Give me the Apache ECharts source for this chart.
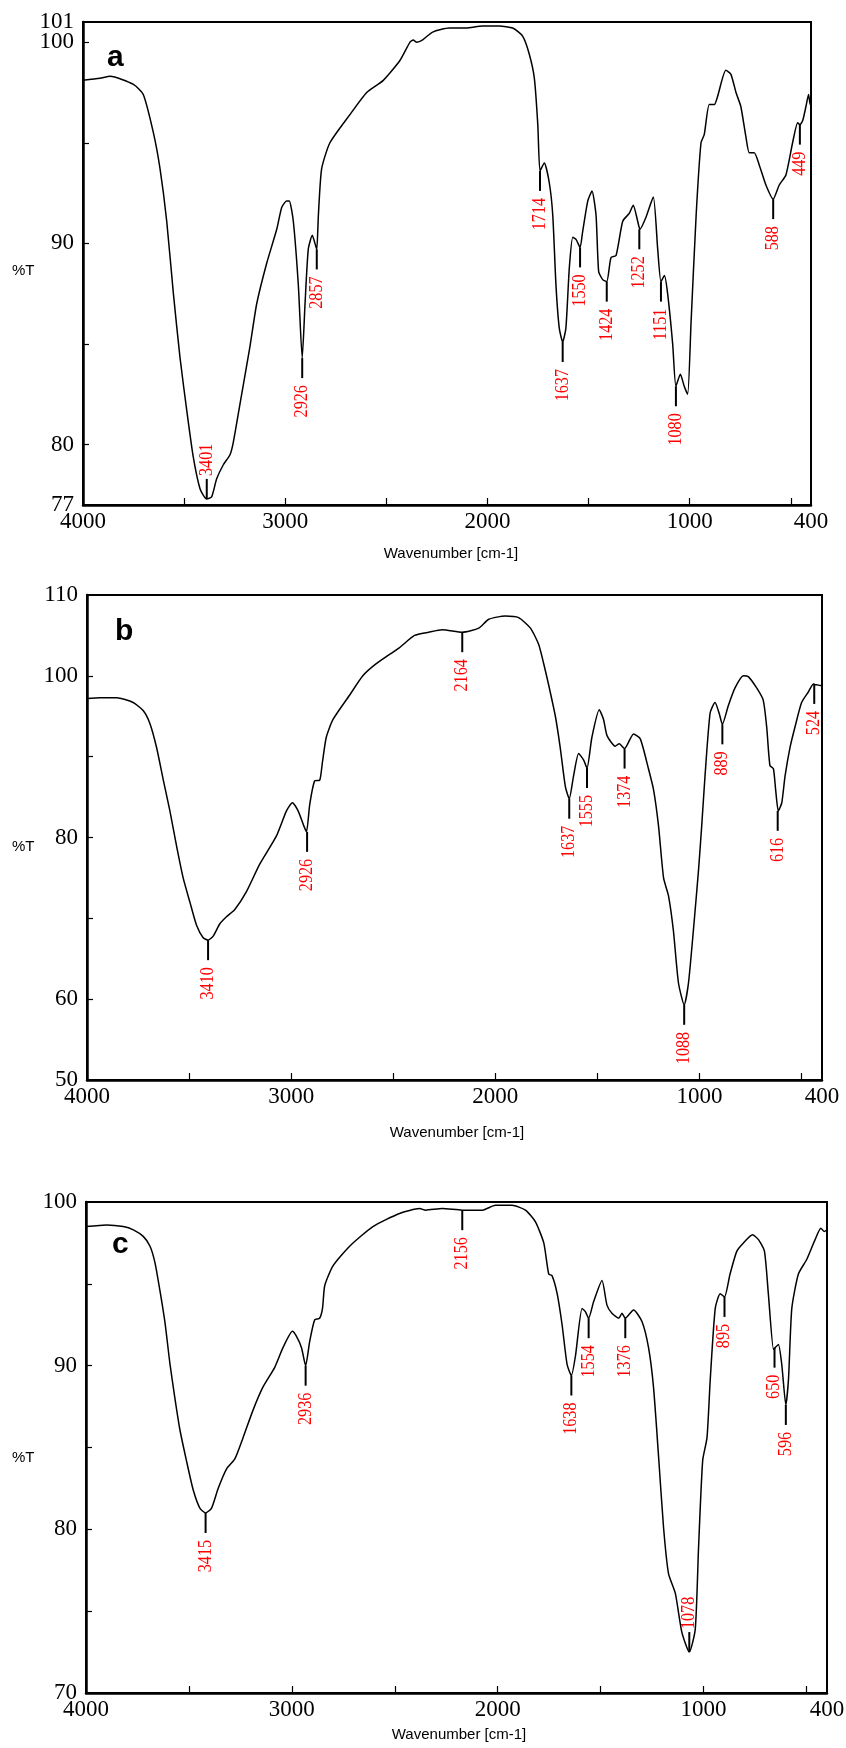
<!DOCTYPE html>
<html>
<head>
<meta charset="utf-8">
<title>FTIR spectra a, b, c</title>
<script src="https://cdn.jsdelivr.net/npm/echarts@6/dist/echarts.min.js"></script>
<style>
  html, body { margin: 0; padding: 0; background: #fff; }
  #ftir-chart { width: 846px; height: 1748px; }
</style>
</head>
<body>
<div id="ftir-chart"></div>
<script>
// spectrum a
var waveA = [4000, 3916, 3866, 3751, 3702, 3652, 3619, 3586, 3553, 3520, 3487, 3455, 3421, 3388, 3364, 3339, 3306, 3273, 3257, 3224,
  3174, 3141, 3092, 3042, 3017, 2993, 2980, 2960, 2935, 2916, 2902, 2886, 2866, 2853, 2844, 2836, 2820, 2779, 2680, 2597,
  2515, 2432, 2383, 2367, 2350, 2322, 2271, 2189, 2106, 2024, 1941, 1875, 1826, 1793, 1768, 1751, 1740, 1719, 1694, 1677,
  1661, 1645, 1628, 1612, 1595, 1578, 1562, 1542, 1529, 1504, 1483, 1463, 1450, 1430, 1410, 1389, 1364, 1331, 1298, 1279,
  1257, 1246, 1216, 1180, 1158, 1142, 1125, 1109, 1084, 1068, 1046, 1027, 1010, 993, 968, 944, 928, 903, 878, 862,
  821, 796, 771, 747, 722, 705, 681, 656, 623, 587, 557, 524, 491, 466, 455, 441, 425, 412, 404, 400];
var pctA = [98.1, 98.2, 98.3, 97.9, 97.4, 95.5, 93.7, 91.1, 87.5, 84.3, 81.7, 79.4, 77.8, 77.3, 77.4, 78.3, 79.0, 79.5, 80.1, 82.0,
  84.9, 87.0, 89.0, 90.7, 91.8, 92.1, 92.1, 91.1, 87.9, 84.3, 87.0, 89.7, 90.4, 90.0, 89.7, 91.4, 93.7, 95.0, 96.4, 97.5,
  98.1, 99.1, 100.0, 100.1, 100.0, 100.1, 100.5, 100.7, 100.7, 100.8, 100.8, 100.7, 100.3, 99.4, 98.2, 95.9, 93.6, 94.0, 93.0, 91.4,
  87.9, 85.8, 85.1, 85.8, 88.8, 90.3, 90.2, 89.8, 90.6, 92.1, 92.6, 91.4, 88.6, 88.2, 88.1, 89.3, 89.4, 91.1, 91.5, 91.9,
  91.1, 90.7, 91.3, 92.3, 89.7, 88.1, 88.4, 87.5, 85.0, 82.9, 83.5, 82.9, 82.5, 86.1, 91.4, 95.0, 95.4, 96.9, 96.9, 97.3,
  98.6, 98.4, 97.5, 96.8, 95.3, 94.5, 94.5, 93.9, 92.9, 92.2, 92.9, 93.4, 95.0, 96.0, 95.9, 96.1, 96.8, 97.4, 96.9, 97.0];
var peakTextA = ['3401', '2926', '2857', '1714', '1637', '1550', '1424', '1252', '1151', '1080', '588', '449'];
var peakPosA = [3388, 2916, 2844, 1740, 1628, 1542, 1410, 1249, 1142, 1068, 587, 455];
var peakValA = [77.3, 84.3, 89.7, 93.6, 85.1, 89.8, 88.1, 90.7, 88.1, 82.9, 92.2, 95.9];
var peakUpA = [true, false, false, false, false, false, false, false, false, false, false, false];

// spectrum b
var waveB = [4000, 3936, 3855, 3774, 3725, 3692, 3659, 3627, 3594, 3561, 3529, 3496, 3463, 3431, 3407, 3382, 3350, 3317, 3276, 3219,
  3154, 3072, 3023, 2994, 2966, 2939, 2925, 2909, 2885, 2860, 2847, 2828, 2795, 2714, 2649, 2583, 2469, 2396, 2326, 2260,
  2162, 2081, 2032, 1951, 1886, 1828, 1788, 1763, 1739, 1706, 1682, 1657, 1638, 1617, 1592, 1568, 1551, 1527, 1491, 1470,
  1453, 1413, 1393, 1367, 1323, 1290, 1250, 1225, 1201, 1176, 1152, 1128, 1103, 1075, 1054, 1030, 1005, 989, 973, 948,
  924, 904, 888, 859, 826, 785, 761, 720, 688, 671, 655, 638, 627, 614, 597, 581, 557, 532, 500, 467,
  442, 434, 426, 410, 400];
var pctB = [97.2, 97.3, 97.3, 96.7, 95.7, 94.1, 91.1, 87.2, 83.3, 78.9, 75.0, 72.0, 69.1, 67.6, 67.3, 67.8, 69.3, 70.2, 71.1, 73.3,
  76.7, 80.2, 83.3, 84.3, 83.3, 81.5, 80.7, 84.1, 87.0, 87.1, 89.3, 92.4, 94.6, 97.6, 100.0, 101.5, 103.5, 105.0, 105.4, 105.7,
  105.4, 105.9, 107.0, 107.4, 107.2, 105.9, 103.9, 101.5, 98.9, 95.0, 91.1, 86.3, 84.8, 87.6, 90.4, 89.6, 88.6, 92.4, 95.8, 94.6,
  92.6, 91.3, 91.6, 91.0, 92.8, 92.2, 88.5, 85.9, 81.5, 75.0, 72.8, 68.5, 62.0, 59.3, 62.0, 68.5, 75.9, 81.5, 87.6, 95.4,
  96.7, 95.4, 94.0, 96.3, 98.5, 100.0, 99.9, 98.5, 97.0, 93.7, 88.9, 88.5, 85.9, 83.3, 84.3, 87.6, 91.1, 93.7, 96.7, 98.0,
  99.0, 98.9, 98.9, 98.8, 98.8];
var peakTextB = ['3410', '2926', '2164', '1637', '1555', '1374', '1088', '889', '616', '524'];
var peakPosB = [3407, 2922, 2162, 1638, 1551, 1367, 1075, 888, 617, 438];
var peakValB = [67.3, 80.7, 105.4, 84.8, 88.6, 91.0, 59.3, 94.0, 83.3, 99.0];
var peakUpB = [false, false, false, false, false, false, false, false, false, false];

// spectrum c
var waveC = [4000, 3900, 3819, 3770, 3722, 3689, 3665, 3641, 3617, 3592, 3568, 3544, 3512, 3479, 3447, 3419, 3390, 3358, 3317, 3277,
  3237, 3188, 3140, 3083, 3043, 2997, 2978, 2953, 2933, 2913, 2889, 2865, 2851, 2840, 2800, 2719, 2606, 2477, 2379, 2350,
  2269, 2172, 2075, 2011, 1930, 1865, 1817, 1776, 1752, 1736, 1711, 1687, 1663, 1642, 1622, 1590, 1574, 1558, 1534, 1493,
  1469, 1445, 1412, 1396, 1380, 1340, 1299, 1267, 1243, 1218, 1194, 1170, 1137, 1105, 1069, 1040, 1024, 1004, 983, 967,
  943, 919, 898, 871, 838, 806, 762, 733, 704, 685, 660, 652, 636, 620, 600, 587, 571, 539, 498, 458,
  430, 414, 400];
var pctC = [98.5, 98.6, 98.5, 98.3, 97.9, 97.3, 96.3, 94.6, 92.7, 90.1, 88.0, 86.1, 84.2, 82.4, 81.3, 81.0, 81.3, 82.5, 83.7, 84.3,
  85.6, 87.3, 88.7, 89.9, 91.1, 92.1, 91.8, 91.1, 90.0, 91.5, 92.8, 92.9, 93.5, 94.9, 96.1, 97.3, 98.5, 99.3, 99.6, 99.5,
  99.6, 99.5, 99.5, 99.8, 99.8, 99.5, 98.8, 97.5, 95.6, 95.5, 94.4, 92.5, 90.1, 89.4, 90.6, 93.5, 93.3, 92.9, 93.9, 95.2,
  93.7, 93.2, 92.9, 93.2, 92.9, 93.4, 92.7, 91.1, 88.7, 84.4, 80.1, 77.3, 76.1, 73.7, 72.5, 73.9, 78.9, 84.2, 85.6, 89.2,
  93.5, 94.4, 94.2, 95.6, 97.0, 97.5, 98.0, 97.7, 97.0, 94.4, 91.0, 91.1, 91.3, 90.1, 87.6, 89.2, 93.5, 95.6, 96.5, 97.7,
  98.4, 98.2, 98.3];
var peakTextC = ['3415', '2936', '2156', '1638', '1554', '1376', '1078', '895', '650', '596'];
var peakPosC = [3419, 2933, 2172, 1642, 1558, 1380, 1069, 898, 655, 600];
var peakValC = [81.0, 90.0, 99.5, 89.4, 92.9, 92.9, 72.5, 94.2, 91.1, 87.6];
var peakUpC = [false, false, false, false, false, false, true, false, false, false];

// axis ticks / labels
var waveLabels = [4000, 3000, 2000, 1000, 400];
var waveTicks = [3500, 3000, 2500, 2000, 1500, 1000, 500];
var yLabelsA = [77, 80, 90, 100];
var yTopLabelA = [101]; // sits right above 100, gets its own axis so it isn't hidden as overlapping
var yTicksA = [80, 85, 90, 95, 100];
var yLabelsB = [50, 60, 80, 100, 110];
var yTicksB = [60, 70, 80, 90, 100];
var yLabelsC = [70, 80, 90, 100];
var yTicksC = [75, 80, 85, 90, 95];

var serif = '"Liberation Serif", "Times New Roman", serif';
var sans = '"Liberation Sans", Arial, sans-serif';

function pairs(xs, ys) {
  return xs.map(function (x, i) { return [x, ys[i]]; });
}

function plain(v) {
  return String(v);
}

function xAxisFor(idx) {
  return {
    type: 'value', gridIndex: idx, min: 400, max: 4000, inverse: true,
    axisLine: { lineStyle: { color: '#000', width: 2.5 } },
    axisTick: { inside: true, length: 7, customValues: waveTicks, lineStyle: { color: '#000', width: 1.2 } },
    axisLabel: { customValues: waveLabels, formatter: plain, margin: 5, color: '#000', fontFamily: serif, fontSize: 23 },
    splitLine: { show: false }
  };
}

function yAxisFor(idx, min, max, labels, ticks) {
  return {
    type: 'value', gridIndex: idx, min: min, max: max, position: 'left',
    axisLine: { show: true, lineStyle: { color: '#000', width: 2.5 } },
    axisTick: { show: true, inside: true, length: 6, customValues: ticks, lineStyle: { color: '#000', width: 1.2 } },
    axisLabel: { customValues: labels, formatter: plain, margin: 9, color: '#000', fontFamily: serif, fontSize: 23 },
    splitLine: { show: false }
  };
}

function curve(idx, xs, ys) {
  return {
    type: 'line', xAxisIndex: idx, yAxisIndex: idx,
    data: pairs(xs, ys),
    showSymbol: false, smooth: 0.2,
    lineStyle: { color: '#000', width: 1.5 },
    silent: true
  };
}

// vertical marker line at a band plus a rotated red wavenumber label
function peaks(idx, texts, pos, vals, ups) {
  return {
    type: 'custom', xAxisIndex: idx, yAxisIndex: idx,
    data: pairs(pos, vals),
    encode: { x: 0, y: 1 },
    silent: true,
    renderItem: function (params, api) {
      var i = params.dataIndex;
      var p = api.coord([api.value(0), api.value(1)]);
      var dir = ups[i] ? -1 : 1;
      var y2 = p[1] + dir * 20;
      var ty = y2 + dir * (ups[i] ? 3 : 7);
      return {
        type: 'group',
        children: [
          { type: 'line', shape: { x1: p[0], y1: p[1], x2: p[0], y2: y2 },
            style: { stroke: '#000', lineWidth: 2 } },
          { type: 'text', x: p[0], y: ty, rotation: Math.PI / 2, scaleX: 0.85,
            style: { text: texts[i], fill: '#ff0000', font: '19px ' + serif,
              align: ups[i] ? 'left' : 'right', verticalAlign: 'middle' } }
        ]
      };
    }
  };
}

function txt(text, x, y, font, align) {
  return { type: 'text', x: x, y: y, silent: true,
    style: { text: text, fill: '#000', font: font, align: align || 'left', verticalAlign: 'middle' } };
}

var chartDom = document.getElementById('ftir-chart');
var myChart = echarts.init(chartDom);
var option;

var topAxisA = yAxisFor(0, 77, 101, yTopLabelA, []);
topAxisA.axisLine.show = false;
topAxisA.axisTick.show = false;

option = {
  animation: false,
  backgroundColor: '#fff',
  grid: [
    { left: 83, top: 22, width: 728, height: 483, outerBoundsMode: 'none', show: true, borderColor: '#000', borderWidth: 2 },
    { left: 87, top: 595, width: 735, height: 485, outerBoundsMode: 'none', show: true, borderColor: '#000', borderWidth: 2 },
    { left: 86, top: 1202, width: 741, height: 491, outerBoundsMode: 'none', show: true, borderColor: '#000', borderWidth: 2 }
  ],
  xAxis: [xAxisFor(0), xAxisFor(1), xAxisFor(2)],
  yAxis: [
    yAxisFor(0, 77, 101, yLabelsA, yTicksA),
    yAxisFor(1, 50, 110, yLabelsB, yTicksB),
    yAxisFor(2, 70, 100, yLabelsC, yTicksC),
    topAxisA
  ],
  series: [
    curve(0, waveA, pctA),
    curve(1, waveB, pctB),
    curve(2, waveC, pctC),
    peaks(0, peakTextA, peakPosA, peakValA, peakUpA),
    peaks(1, peakTextB, peakPosB, peakValB, peakUpB),
    peaks(2, peakTextC, peakPosC, peakValC, peakUpC)
  ],
  graphic: [
    txt('a', 107, 58, 'bold 30px ' + sans),
    txt('b', 115, 632, 'bold 30px ' + sans),
    txt('c', 112, 1245, 'bold 30px ' + sans),
    txt('%T', 12, 271, '15px ' + sans),
    txt('%T', 12, 847, '15px ' + sans),
    txt('%T', 12, 1458, '15px ' + sans),
    txt('Wavenumber [cm-1]', 451, 554, '15px ' + sans, 'center'),
    txt('Wavenumber [cm-1]', 457, 1133, '15px ' + sans, 'center'),
    txt('Wavenumber [cm-1]', 459, 1735, '15px ' + sans, 'center')
  ]
};

option && myChart.setOption(option);
</script>
</body>
</html>
